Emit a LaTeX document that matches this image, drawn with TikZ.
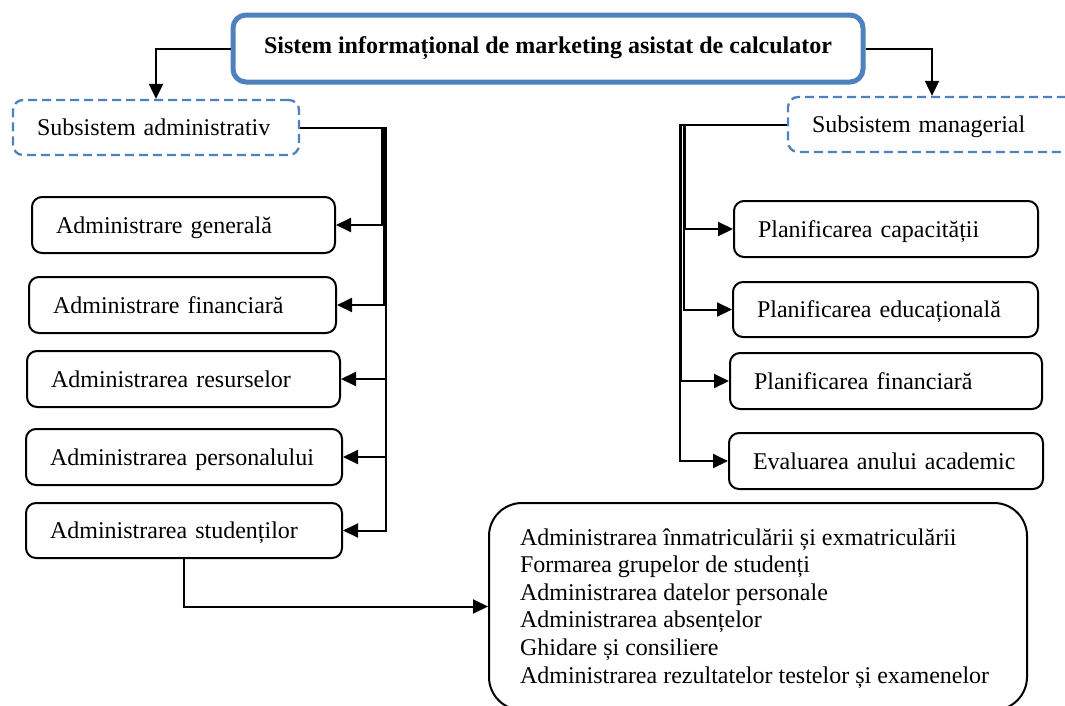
\documentclass[tikz,border=0pt]{standalone}
\usepackage{fontspec}
\setmainfont{Liberation Serif}
\usetikzlibrary{arrows.meta}
\definecolor{wordblue}{RGB}{79,129,189}
\begin{document}
\begin{tikzpicture}[x=1pt,y=-1pt,
  base text/.style={font=\fontsize{24}{27.6}\selectfont, text height=16pt, text depth=0pt,
    inner ysep=0pt, inner xsep=24pt, align=left},
  item/.style={base text, draw=black, line width=2pt, rounded corners=10pt, minimum height=56pt},
  subsys/.style={base text, draw=wordblue, line width=2.3pt, dash pattern=on 9pt off 5pt,
    rounded corners=10pt, minimum height=55pt},
  topbox/.style={draw=wordblue, line width=5pt, rounded corners=13pt,
    font=\fontsize{24}{27.6}\selectfont\bfseries, text height=16pt, text depth=7pt,
    minimum width=630pt, minimum height=67pt},
  detail/.style={draw=black, line width=2pt, rounded corners=33pt, inner sep=0pt,
    font=\fontsize{24}{27.6}\selectfont, text height=16pt, text depth=139pt,
    minimum width=538pt, minimum height=207pt},
  link/.style={draw=black, line width=2pt, -{Triangle[length=15pt,width=14pt]}}
]
\useasboundingbox (0,0) rectangle (1065,705);

% main system
\node[topbox] (sys) at (548,48.5) {Sistem informațional de marketing asistat de calculator};

% the two subsystems
\node[subsys, text width=238pt] (sa) at (156,127.5) {Subsistem administrativ};
\node[subsys, text width=240pt] (sm) at (932,124.5) {Subsistem managerial};

% administrative modules
\node[item, text width=255pt] (a1) at (183.5,225) {Administrare generală};
\node[item, text width=259pt] (a2) at (182.5,305) {Administrare financiară};
\node[item, text width=265pt] (a3) at (183.5,379) {Administrarea resurselor};
\node[item, text width=268pt] (a4) at (184,457) {Administrarea personalului};
\node[item, text width=268pt, minimum height=55pt] (a5) at (184,530.5) {Administrarea studenților};

% managerial modules
\node[item, text width=256pt] (p1) at (886,229) {Planificarea capacității};
\node[item, text width=257pt, minimum height=55pt] (p2) at (885.5,309.5) {Planificarea educațională};
\node[item, text width=264pt] (p3) at (886,381) {Planificarea financiară};
\node[item, text width=266pt] (p4) at (886,461) {Evaluarea anului academic};

% student administration details
\node[detail] (st) at (758,606.5) {\parbox[t]{476pt}{\raggedright
  Administrarea înmatriculării și exmatriculării\\
  Formarea grupelor de studenți\\
  Administrarea datelor personale\\
  Administrarea absențelor\\
  Ghidare și consiliere\\
  Administrarea rezultatelor testelor și examenelor}};

% connectors
\draw[link] (sys.west) -| (sa.north);
\draw[link] (sys.east) -| (sm.north);

\draw[link] (sa.east) -- ++(82,0) |- (a1.east);
\draw[link] (sa.east) -- ++(84,0) |- (a2.east);
\draw[link] (sa.east) -- ++(86,0) |- (a3.east);
\draw[link] (sa.east) -- ++(86,0) |- (a4.east);
\draw[link] (sa.east) -- ++(86,0) |- (a5.east);

\draw[link] (sm.west) -- ++(-102,0) |- (p1.west);
\draw[link] (sm.west) -- ++(-103,0) |- (p2.west);
\draw[link] (sm.west) -- ++(-106,0) |- (p3.west);
\draw[link] (sm.west) -- ++(-107,0) |- (p4.west);

\draw[link] (a5.south) |- (st.west);
\end{tikzpicture}
\end{document}
